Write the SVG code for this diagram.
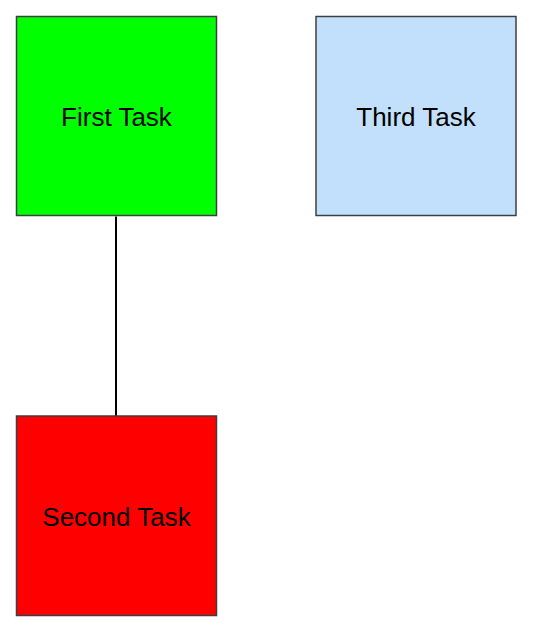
<svg xmlns="http://www.w3.org/2000/svg" width="542" height="636" viewBox="0 0 542 636">
<style>
.box{stroke:#3c3f42;stroke-width:1.5}
.lbl{font-family:"Liberation Sans",Arial,sans-serif;font-size:26px;fill:#000;text-anchor:middle}
.edge{stroke:#000;stroke-width:2;fill:none}
</style>
<rect width="542" height="636" fill="#fff"/>
<g id="connectors">
<path class="edge" d="M116 216.5 V416"/>
</g>
<g id="first">
<rect class="box" x="16.5" y="16.5" width="200" height="199" fill="#00ff00"/>
<text class="lbl" x="116.5" y="126">First Task</text>
</g>
<g id="third">
<rect class="box" x="316" y="16.5" width="200" height="199" fill="#c2e0fb"/>
<text class="lbl" x="416" y="126">Third Task</text>
</g>
<g id="second">
<rect class="box" x="16.5" y="416" width="200" height="199.5" fill="#ff0000"/>
<text class="lbl" x="116.5" y="526">Second Task</text>
</g>
</svg>
